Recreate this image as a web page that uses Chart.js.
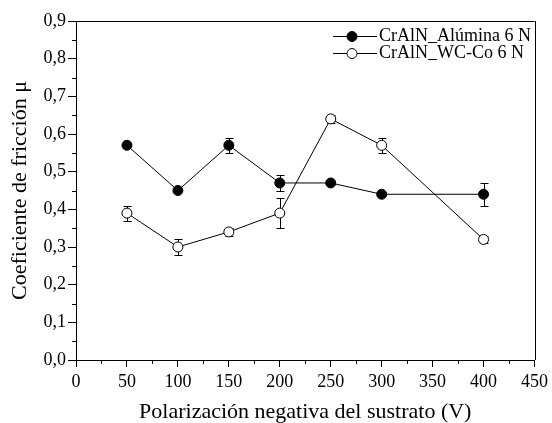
<!DOCTYPE html>
<html>
<head>
<meta charset="utf-8">
<script src="https://cdn.jsdelivr.net/npm/chart.js@4"></script>
<style>
  html, body { margin: 0; padding: 0; background: #fff; }
  #wrap { width: 552px; height: 423px; }
</style>
</head>
<body>
<div id="wrap"><canvas id="frictionChart" width="552" height="423"></canvas></div>
<script>
// ==================== DATA ====================
const biasVoltage = [50, 100, 150, 200, 250, 300, 400];
const aluminaMu = [0.57, 0.45, 0.57, 0.47, 0.47, 0.44, 0.44];
const aluminaErr = [0, 0, 0.02, 0.02, 0, 0, 0.03];
const wccoMu = [0.39, 0.30, 0.34, 0.39, 0.64, 0.57, 0.32];
const wccoErr = [0.02, 0.02, 0.01, 0.04, 0.01, 0.02, 0.01];
const seriesLabels = ['CrAlN_Alúmina 6 N', 'CrAlN_WC-Co 6 N'];

const FONT = "'Liberation Serif', 'Times New Roman', serif";

// error bars drawn under the markers
const errorBarPlugin = {
  id: 'errorBars',
  beforeDatasetsDraw(chart) {
    const ctx = chart.ctx;
    const y = chart.scales.y;
    ctx.save();
    ctx.strokeStyle = '#000';
    ctx.lineWidth = 1;
    chart.data.datasets.forEach((ds, i) => {
      const meta = chart.getDatasetMeta(i);
      meta.data.forEach((pt, j) => {
        const e = ds.errors[j];
        if (!e) return;
        const v = ds.data[j].y;
        const yTop = Math.round(y.getPixelForValue(v + e)) + 0.5;
        const yBot = Math.round(y.getPixelForValue(v - e)) + 0.5;
        const x = Math.round(pt.x) + 0.5;
        ctx.beginPath();
        ctx.moveTo(x, yTop); ctx.lineTo(x, yBot);
        ctx.moveTo(x - 4, yTop); ctx.lineTo(x + 4, yTop);
        ctx.moveTo(x - 4, yBot); ctx.lineTo(x + 4, yBot);
        ctx.stroke();
      });
    });
    ctx.restore();
  }
};

// top/right frame + minor ticks
const framePlugin = {
  id: 'frame',
  afterDraw(chart) {
    const { ctx, chartArea: a, scales } = chart;
    ctx.save();
    ctx.strokeStyle = '#000';
    ctx.lineWidth = 1;
    ctx.beginPath();
    ctx.moveTo(a.left, Math.round(a.top) + 0.5);
    ctx.lineTo(a.right, Math.round(a.top) + 0.5);
    ctx.moveTo(Math.round(a.right) + 0.5, a.top);
    ctx.lineTo(Math.round(a.right) + 0.5, a.bottom);
    // minor ticks
    for (let v = 0.05; v < 0.9; v += 0.1) {
      const py = Math.round(scales.y.getPixelForValue(v)) + 0.5;
      ctx.moveTo(a.left - 4, py); ctx.lineTo(a.left, py);
    }
    for (let v = 25; v < 450; v += 50) {
      const px = Math.round(scales.x.getPixelForValue(v)) + 0.5;
      ctx.moveTo(px, a.bottom); ctx.lineTo(px, a.bottom + 4);
    }
    ctx.stroke();
    ctx.restore();
  }
};

// legend: line - marker - line, then text
const legendPlugin = {
  id: 'lineLegend',
  afterDraw(chart) {
    const ctx = chart.ctx;
    const x0 = 333, x1 = 377, xm = 352, tx = 379;
    const rows = [36, 53];
    ctx.save();
    chart.data.datasets.forEach((ds, i) => {
      const yy = rows[i] + 0.5;
      ctx.strokeStyle = '#000';
      ctx.lineWidth = 1;
      ctx.beginPath();
      ctx.moveTo(x0, yy); ctx.lineTo(x1, yy);
      ctx.stroke();
      ctx.beginPath();
      ctx.arc(xm, yy, 5, 0, Math.PI * 2);
      ctx.fillStyle = ds.pointBackgroundColor;
      ctx.fill();
      ctx.stroke();
      ctx.fillStyle = '#000';
      ctx.font = '18px ' + FONT;
      ctx.textBaseline = 'middle';
      ctx.fillText(ds.label, tx, yy);
    });
    ctx.restore();
  }
};

function toPoints(ys) {
  return biasVoltage.map((x, i) => ({ x, y: ys[i] }));
}

const ctx = document.getElementById('frictionChart');
new Chart(ctx, {
  type: 'line',
  data: {
    datasets: [{
      label: seriesLabels[0],
      data: toPoints(aluminaMu),
      errors: aluminaErr,
      borderColor: '#000',
      borderWidth: 1,
      pointBackgroundColor: '#000',
      pointBorderColor: '#000',
      pointBorderWidth: 1,
      pointRadius: 5,
      tension: 0
    }, {
      label: seriesLabels[1],
      data: toPoints(wccoMu),
      errors: wccoErr,
      borderColor: '#000',
      borderWidth: 1,
      pointBackgroundColor: '#fff',
      pointBorderColor: '#000',
      pointBorderWidth: 1,
      pointRadius: 5,
      tension: 0
    }]
  },
  options: {
    responsive: false,
    animation: false,
    layout: { padding: { top: 21, right: 15, left: 0, bottom: 0 } },
    plugins: {
      legend: { display: false },
      tooltip: { enabled: false }
    },
    scales: {
      x: {
        type: 'linear',
        min: 0, max: 450,
        afterFit: (s) => { s.height = 63; },
        ticks: { stepSize: 50, color: '#000', font: { family: FONT, size: 18 }, padding: 4, maxRotation: 0 },
        grid: { display: true, drawOnChartArea: false, drawTicks: true, tickLength: 7, color: '#000' },
        border: { display: true, color: '#000', width: 1 },
        title: {
          display: true,
          text: 'Polarización negativa del sustrato (V)',
          color: '#000',
          font: { family: FONT, size: 22, lineHeight: 1 },
          padding: { top: 0, bottom: 0 }
        }
      },
      y: {
        min: 0, max: 0.9,
        afterFit: (s) => { s.width = 76; },
        ticks: {
          stepSize: 0.1, color: '#000', font: { family: FONT, size: 18 }, padding: 2,
          callback: (v) => v.toFixed(1).replace('.', ',')
        },
        grid: { display: true, drawOnChartArea: false, drawTicks: true, tickLength: 8, color: '#000' },
        border: { display: true, color: '#000', width: 1 },
        title: {
          display: true,
          text: 'Coeficiente de fricción μ',
          color: '#000',
          font: { family: FONT, size: 22 },
          padding: { top: 7, bottom: 0 }
        }
      }
    }
  },
  plugins: [errorBarPlugin, framePlugin, legendPlugin]
});
</script>
</body>
</html>
